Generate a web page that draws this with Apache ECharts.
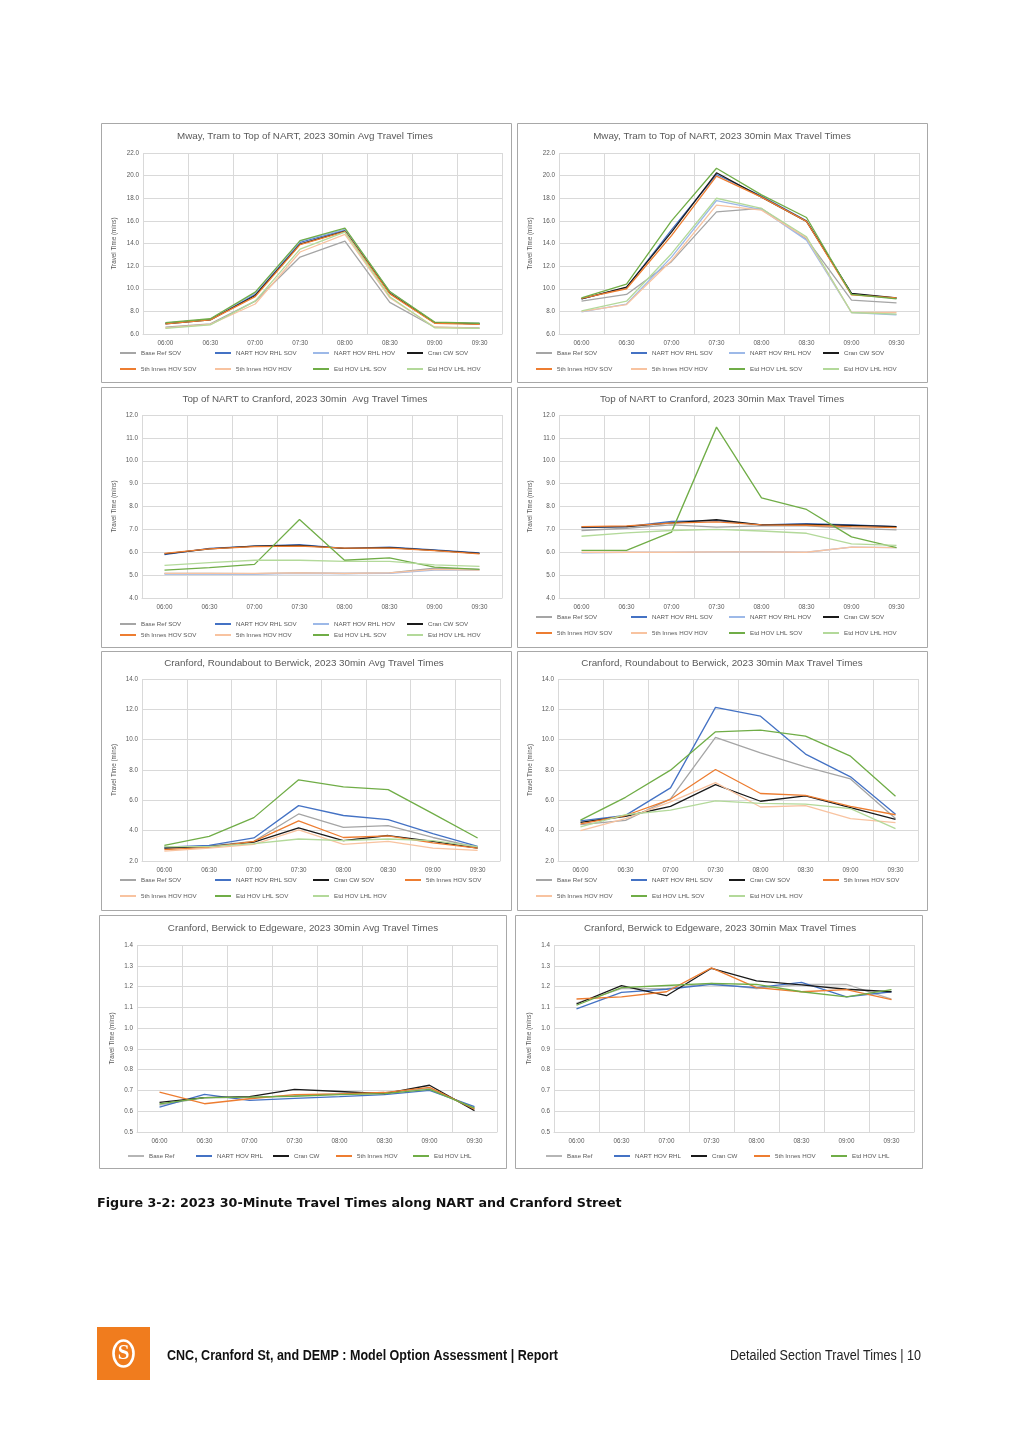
<!DOCTYPE html>
<html>
<head>
<meta charset="utf-8">
<script src="https://cdn.jsdelivr.net/npm/echarts@6/dist/echarts.min.js"></script>
<style>
html,body{margin:0;padding:0;background:#fff;}
#page{width:1012px;height:1433px;}
</style>
</head>
<body>
<div id="page"></div>
<script>
// ---------- DATA ----------
const times = ['06:00', '06:30', '07:00', '07:30', '08:00', '08:30', '09:00', '09:30'];

const namesFull = ['Base Ref SOV', 'NART HOV RHL SOV', 'NART HOV RHL HOV', 'Cran CW SOV',
  '5th Innes HOV SOV', '5th Innes HOV HOV', 'Etd HOV LHL SOV', 'Etd HOV LHL HOV'];
const namesSeven = ['Base Ref SOV', 'NART HOV RHL SOV', 'Cran CW SOV', '5th Innes HOV SOV',
  '5th Innes HOV HOV', 'Etd HOV LHL SOV', 'Etd HOV LHL HOV'];
const namesShort = ['Base Ref', 'NART HOV RHL', 'Cran CW', '5th Innes HOV', 'Etd HOV LHL'];

// Mway, Tram to Top of NART - Avg (rows follow namesFull)
const mwayAvg = [
  [6.6, 6.9, 8.9, 12.8, 14.2, 8.8, 6.6, 6.55],
  [6.95, 7.3, 9.5, 14.1, 15.2, 9.7, 7.0, 6.9],
  [6.95, 7.3, 9.6, 14.2, 15.25, 9.7, 7.0, 6.95],
  [6.9, 7.25, 9.4, 13.95, 15.1, 9.6, 7.0, 6.9],
  [6.9, 7.25, 9.3, 13.9, 15.05, 9.55, 6.95, 6.85],
  [6.55, 6.85, 8.65, 13.25, 14.8, 9.2, 6.6, 6.5],
  [7.0, 7.35, 9.7, 14.25, 15.35, 9.75, 7.05, 6.95],
  [6.5, 6.8, 8.9, 13.5, 15.0, 9.3, 6.55, 6.5]
];
// Mway, Tram to Top of NART - Max
const mwayMax = [
  [8.9, 9.5, 12.4, 16.8, 17.1, 14.4, 9.0, 8.75],
  [9.1, 10.1, 15.2, 20.1, 18.2, 16.0, 9.55, 9.15],
  [7.95, 8.65, 12.8, 17.8, 17.0, 14.3, 7.9, 7.7],
  [9.1, 10.15, 15.0, 20.25, 18.1, 15.95, 9.6, 9.2],
  [9.15, 10.0, 14.7, 19.95, 18.1, 15.95, 9.45, 9.2],
  [8.0, 8.6, 12.5, 17.4, 16.95, 14.5, 7.9, 7.9],
  [9.2, 10.4, 16.0, 20.65, 18.3, 16.3, 9.5, 9.1],
  [8.05, 8.9, 13.1, 18.0, 17.1, 14.6, 7.9, 7.75]
];
// Top of NART to Cranford - Avg
const nartAvg = [
  [5.07, 5.07, 5.06, 5.1, 5.07, 5.1, 5.3, 5.25],
  [5.9, 6.17, 6.27, 6.33, 6.17, 6.22, 6.1, 5.97],
  [5.05, 5.05, 5.05, 5.08, 5.07, 5.08, 5.22, 5.22],
  [5.93, 6.15, 6.27, 6.3, 6.17, 6.2, 6.08, 5.95],
  [5.95, 6.15, 6.25, 6.27, 6.18, 6.18, 6.07, 5.93],
  [5.08, 5.08, 5.08, 5.1, 5.08, 5.1, 5.25, 5.22],
  [5.22, 5.33, 5.47, 7.43, 5.65, 5.75, 5.35, 5.25],
  [5.43, 5.55, 5.65, 5.65, 5.6, 5.6, 5.45, 5.38]
];
// Top of NART to Cranford - Max
const nartMax = [
  [6.95, 7.05, 7.2, 7.1, 7.15, 7.15, 7.05, 6.98],
  [7.08, 7.12, 7.35, 7.38, 7.2, 7.25, 7.2, 7.12],
  [5.97, 6.0, 6.0, 6.02, 6.03, 6.0, 6.22, 6.2],
  [7.1, 7.12, 7.28, 7.42, 7.2, 7.22, 7.17, 7.12],
  [7.12, 7.15, 7.27, 7.33, 7.2, 7.18, 7.12, 7.08],
  [6.0, 6.0, 6.0, 6.02, 6.02, 6.0, 6.22, 6.2],
  [6.08, 6.08, 6.88, 11.47, 8.38, 7.87, 6.67, 6.2],
  [6.7, 6.85, 6.95, 7.0, 6.93, 6.83, 6.37, 6.3]
];
// Cranford, Roundabout to Berwick - Avg (rows follow namesSeven)
const rbtAvg = [
  [2.85, 3.0, 3.3, 5.1, 4.22, 4.33, 3.55, 2.9],
  [2.92, 3.03, 3.52, 5.65, 5.0, 4.73, 3.8, 2.96],
  [2.85, 2.95, 3.25, 4.18, 3.35, 3.68, 3.3, 2.85],
  [2.75, 2.9, 3.3, 4.64, 3.55, 3.65, 3.2, 2.85],
  [2.65, 2.85, 3.1, 4.05, 3.1, 3.3, 2.85, 2.7],
  [3.03, 3.63, 4.86, 7.35, 6.89, 6.71, 5.12, 3.52],
  [2.95, 2.95, 3.15, 3.45, 3.35, 3.45, 3.35, 2.95]
];
// Cranford, Roundabout to Berwick - Max
const rbtMax = [
  [4.4, 4.68, 6.1, 10.15, 9.13, 8.2, 7.41, 4.8],
  [4.64, 5.01, 6.82, 12.13, 11.55, 9.05, 7.55, 5.08],
  [4.55, 4.95, 5.6, 7.04, 5.94, 6.29, 5.52, 4.75],
  [4.45, 5.0, 6.07, 8.03, 6.45, 6.33, 5.6, 5.05],
  [4.0, 4.8, 5.9, 7.17, 5.56, 5.65, 4.8, 4.53],
  [4.7, 6.2, 7.99, 10.52, 10.63, 10.23, 8.91, 6.27],
  [4.25, 5.05, 5.35, 5.96, 5.8, 5.75, 5.45, 4.13]
];
// Cranford, Berwick to Edgeware - Avg (rows follow namesShort)
const berAvg = [
  [0.63, 0.665, 0.665, 0.675, 0.685, 0.69, 0.71, 0.615],
  [0.62, 0.681, 0.652, 0.662, 0.67, 0.68, 0.70, 0.622],
  [0.643, 0.665, 0.67, 0.705, 0.695, 0.685, 0.725, 0.603],
  [0.692, 0.636, 0.66, 0.68, 0.683, 0.69, 0.715, 0.61],
  [0.635, 0.665, 0.668, 0.672, 0.68, 0.685, 0.705, 0.615]
];
// Cranford, Berwick to Edgeware - Max
const berMax = [
  [1.12, 1.19, 1.19, 1.215, 1.19, 1.21, 1.21, 1.14],
  [1.093, 1.172, 1.187, 1.21, 1.195, 1.22, 1.15, 1.175],
  [1.116, 1.204, 1.156, 1.288, 1.227, 1.208, 1.187, 1.175],
  [1.14, 1.15, 1.175, 1.29, 1.195, 1.175, 1.185, 1.137],
  [1.11, 1.195, 1.205, 1.215, 1.21, 1.175, 1.15, 1.185]
];

const captionText = 'Figure 3-2: 2023 30-Minute Travel Times along NART and Cranford Street';
const footerLeftText = 'CNC, Cranford St, and DEMP : Model Option Assessment | Report';
const footerRightText = 'Detailed Section Travel Times | 10';

// ---------- STYLE ----------
const seriesColors = {
  'Base Ref SOV': '#A5A5A5', 'NART HOV RHL SOV': '#4472C4', 'NART HOV RHL HOV': '#9DB9E8',
  'Cran CW SOV': '#1A1A1A', '5th Innes HOV SOV': '#ED7D31', '5th Innes HOV HOV': '#F8C3A0',
  'Etd HOV LHL SOV': '#70AD47', 'Etd HOV LHL HOV': '#B3D99A',
  'Base Ref': '#B5B5B5', 'NART HOV RHL': '#4472C4', 'Cran CW': '#1A1A1A',
  '5th Innes HOV': '#ED7D31', 'Etd HOV LHL': '#70AD47'
};
const FONT = '"Liberation Sans", Arial, sans-serif';
const TXT = '#595959';
const GRIDC = '#D9D9D9';

const panels = [
  {title: 'Mway, Tram to Top of NART, 2023 30min Avg Travel Times', names: namesFull, values: mwayAvg, y: [6, 22, 2],
   box: [101, 123, 410, 259], tx: 305, ty: 137, grid: [143, 153, 359, 181], gap: 26, cols: [120, 215, 313, 407], rows: [354, 370], perRow: 4},
  {title: 'Mway, Tram to Top of NART, 2023 30min Max Travel Times', names: namesFull, values: mwayMax, y: [6, 22, 2],
   box: [517, 123, 410, 259], tx: 722, ty: 137, grid: [559, 153, 360, 181], gap: 26, cols: [536, 631, 729, 823], rows: [354, 370], perRow: 4},
  {title: 'Top of NART to Cranford, 2023 30min  Avg Travel Times', names: namesFull, values: nartAvg, y: [4, 12, 1],
   box: [101, 387, 410, 260], tx: 305, ty: 400, grid: [142, 415, 360, 183], gap: 25, cols: [120, 215, 313, 407], rows: [625, 636], perRow: 4},
  {title: 'Top of NART to Cranford, 2023 30min Max Travel Times', names: namesFull, values: nartMax, y: [4, 12, 1],
   box: [517, 387, 410, 260], tx: 722, ty: 400, grid: [559, 415, 360, 183], gap: 26, cols: [536, 631, 729, 823], rows: [618, 634], perRow: 4},
  {title: 'Cranford, Roundabout to Berwick, 2023 30min Avg Travel Times', names: namesSeven, values: rbtAvg, y: [2, 14, 2],
   box: [101, 651, 410, 259], tx: 304, ty: 664, grid: [142, 679, 358, 182], gap: 25, cols: [120, 215, 313, 405], rows: [881, 897], perRow: 4},
  {title: 'Cranford, Roundabout to Berwick, 2023 30min Max Travel Times', names: namesSeven, values: rbtMax, y: [2, 14, 2],
   box: [517, 651, 410, 259], tx: 722, ty: 664, grid: [558, 679, 360, 182], gap: 25, cols: [536, 631, 729, 823], rows: [881, 897], perRow: 4},
  {title: 'Cranford, Berwick to Edgeware, 2023 30min Avg Travel Times', names: namesShort, values: berAvg, y: [0.5, 1.4, 0.1],
   box: [99, 915, 407, 253], tx: 303, ty: 929, grid: [137, 945, 360, 187], gap: 22, cols: [128, 196, 273, 336, 413], rows: [1157], perRow: 5},
  {title: 'Cranford, Berwick to Edgeware, 2023 30min Max Travel Times', names: namesShort, values: berMax, y: [0.5, 1.4, 0.1],
   box: [515, 915, 407, 253], tx: 720, ty: 929, grid: [554, 945, 360, 187], gap: 22, cols: [546, 614, 691, 754, 831], rows: [1157], perRow: 5}
];

// text width helper (to fit page text to the reference widths)
const measureCtx = document.createElement('canvas').getContext('2d');
function textWidth(text, font) { measureCtx.font = font; return measureCtx.measureText(text).width; }

const option = {
  backgroundColor: '#ffffff', animation: false,
  title: [], grid: [], xAxis: [], yAxis: [], series: [], legend: [], graphic: []
};

panels.forEach((p, i) => {
  option.graphic.push({type: 'rect', silent: true, z: -10,
    shape: {x: p.box[0] + 0.5, y: p.box[1] + 0.5, width: p.box[2], height: p.box[3]},
    style: {fill: 'none', stroke: '#A8A8A8', lineWidth: 1}});
  option.title.push({text: p.title, left: p.tx, top: p.ty - 6, textAlign: 'center', padding: 0,
    textStyle: {fontSize: 9.8, fontWeight: 'normal', color: TXT, fontFamily: FONT}});
  option.grid.push({left: p.grid[0], top: p.grid[1], width: p.grid[2], height: p.grid[3], outerBoundsMode: 'none'});
  option.xAxis.push({type: 'category', gridIndex: i, data: times, boundaryGap: true,
    axisTick: {show: false}, axisLine: {lineStyle: {color: GRIDC, width: 1}},
    splitLine: {show: true, lineStyle: {color: GRIDC, width: 1}},
    axisLabel: {fontSize: 6.3, color: TXT, margin: 6, interval: 0, fontFamily: FONT}});
  option.yAxis.push({type: 'value', gridIndex: i, min: p.y[0], max: p.y[1], interval: p.y[2],
    name: 'Travel Time (mins)', nameLocation: 'middle', nameGap: p.gap, nameRotate: 90,
    nameTextStyle: {fontSize: 6.3, color: TXT, fontFamily: FONT},
    axisLine: {show: false}, axisTick: {show: false},
    splitLine: {show: true, lineStyle: {color: GRIDC, width: 1}},
    axisLabel: {fontSize: 6.3, color: TXT, margin: 4, fontFamily: FONT, formatter: v => v.toFixed(1)}});
  p.names.forEach((n, j) => {
    const c = seriesColors[n];
    option.series.push({type: 'line', name: n, xAxisIndex: i, yAxisIndex: i, data: p.values[j],
      symbol: 'none', showSymbol: false, silent: true, z: 2 + j,
      lineStyle: {width: 1.3, color: c}, itemStyle: {color: c}, emphasis: {disabled: true}});
    const col = j % p.perRow, row = Math.floor(j / p.perRow);
    option.legend.push({data: [n], left: p.cols[col], top: p.rows[row] - 4, padding: 0,
      icon: 'rect', itemWidth: 16, itemHeight: 2, selectedMode: false,
      textStyle: {fontSize: 6.2, color: TXT, fontFamily: FONT}});
  });
});

// caption and footer
const capFont = 'bold 12px "DejaVu Sans"';
const capSize = 12 * 525 / textWidth(captionText, capFont);
const footFontL = 'bold 14px "Liberation Sans"';
const footScaleL = 391 / textWidth(footerLeftText, footFontL);
const footFontR = '14px "Liberation Sans"';
const footScaleR = 191 / textWidth(footerRightText, footFontR);

option.graphic.push(
  {type: 'text', x: 97, y: 1204, silent: true,
   style: {text: captionText, x: 0, y: 0, verticalAlign: 'middle',
           fontFamily: '"DejaVu Sans", sans-serif', fontWeight: 'bold', fontSize: capSize, fill: '#111'}},
  {type: 'rect', silent: true, shape: {x: 97, y: 1327, width: 53, height: 53}, style: {fill: '#F07C1E'}},
  {type: 'ellipse', silent: true, shape: {cx: 123.5, cy: 1353.5, rx: 10, ry: 13},
   style: {fill: 'none', stroke: '#ffffff', lineWidth: 2.6}},
  {type: 'text', silent: true, style: {text: 'S', x: 123.5, y: 1354, align: 'center', verticalAlign: 'middle',
   fontFamily: '"Liberation Serif", serif', fontWeight: 'bold', fontSize: 21, fill: '#ffffff'}},
  {type: 'text', silent: true, x: 167, y: 1356, scaleX: footScaleL,
   style: {text: footerLeftText, x: 0, y: 0, verticalAlign: 'middle', fontFamily: '"Liberation Sans", sans-serif',
   fontWeight: 'bold', fontSize: 14, fill: '#111'}},
  {type: 'text', silent: true, x: 921, y: 1356, scaleX: footScaleR,
   style: {text: footerRightText, x: 0, y: 0, align: 'right', verticalAlign: 'middle', fontFamily: '"Liberation Sans", sans-serif',
   fontWeight: 'normal', fontSize: 14, fill: '#222'}}
);

const chart = echarts.init(document.getElementById('page'), null, {renderer: 'canvas', width: 1012, height: 1433});
chart.setOption(option);
</script>
</body>
</html>
